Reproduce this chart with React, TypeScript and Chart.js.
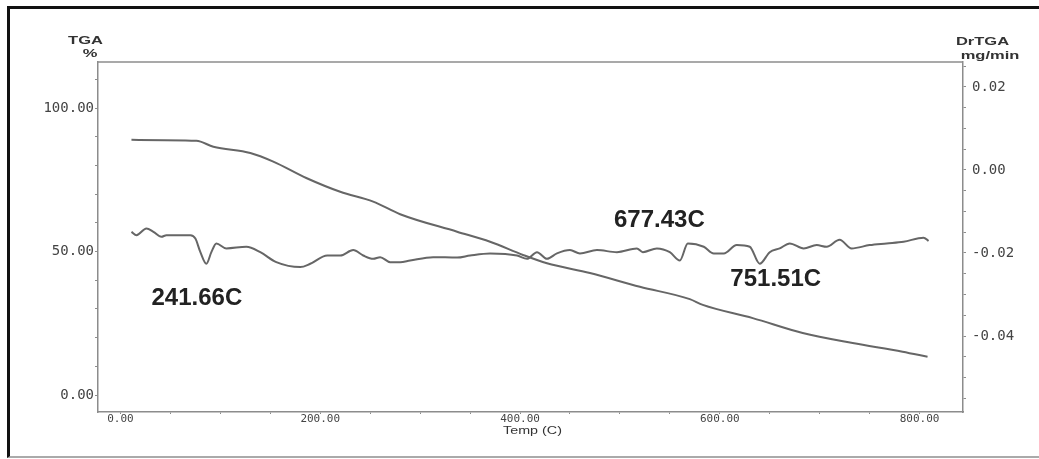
import React, { useEffect, useRef } from "react";
import { Chart, registerables } from "chart.js";

Chart.register(...registerables);

// TGA curve: temperature (C) vs residual mass (%)
const TGA_TEMP = [11, 76, 93, 130, 153, 186, 220, 253, 280, 337, 370, 403, 427, 470, 520, 570, 583, 633, 683, 733, 783, 808];
const TGA_PCT = [88.9, 88.6, 86.5, 84.3, 81.3, 75.6, 70.8, 67.4, 63.0, 56.9, 53.4, 48.8, 45.9, 42.5, 37.7, 33.4, 31.4, 26.8, 21.6, 18.1, 15.1, 13.3];

// Derivative (DrTGA) curve: temperature (C) vs mass-loss rate (mg/min)
const DTG_TEMP = [
  11, 16, 26, 33, 41, 46, 70, 75, 80, 86, 91, 96, 106, 126, 140, 156, 180, 190, 207, 220,
  233, 243, 253, 260, 270, 280, 290, 313, 337, 350, 370, 397, 407, 417, 427, 437, 450, 460, 477, 497,
  517, 523, 537, 550, 560, 568, 584, 594, 604, 617, 630, 640, 650, 660, 670, 684, 697, 707, 720, 732,
  750, 767, 784, 804, 809,
];
const DTG_RATE = [
  -0.0149, -0.0157, -0.0141, -0.0149, -0.0161, -0.0157, -0.0157, -0.0165, -0.0198, -0.0226, -0.0198, -0.0177, -0.0189, -0.0185, -0.0198, -0.0222, -0.0234, -0.0226, -0.0206, -0.0206,
  -0.0193, -0.0206, -0.0214, -0.021, -0.0222, -0.0222, -0.0218, -0.021, -0.0211, -0.0206, -0.0201, -0.0206, -0.0214, -0.0198, -0.0214, -0.0201, -0.0193, -0.0201, -0.0193, -0.0198,
  -0.0189, -0.0198, -0.0189, -0.0198, -0.0218, -0.0177, -0.0185, -0.0201, -0.0201, -0.0181, -0.0185, -0.0226, -0.0198, -0.0189, -0.0177, -0.0189, -0.0181, -0.0185, -0.0168, -0.0189,
  -0.0181, -0.0177, -0.0173, -0.0163, -0.0171,
];

// Labelled tick values on each axis
const X_MAJOR = [0, 200, 400, 600, 800];
const Y_MAJOR = [0, 50, 100];
const Y1_MAJOR = [0.02, 0, -0.02, -0.04];

// Peak annotations, placed in (temperature, TGA %) coordinates
const PEAK_LABELS = ["241.66C", "677.43C", "751.51C"];
const PEAK_LABEL_AT = [
  [76.5, 33.8],
  [539.5, 61],
  [656, 40.2],
];

const AXIS_COLOR = "#8c8c8c";
const LINE_COLOR = "#666666";
const TICK_FONT = "'DejaVu Sans Mono', monospace";

function steps(from: number, to: number, step: number): number[] {
  const out: number[] = [];
  const n = Math.round((to - from) / step);
  for (let i = 0; i <= n; i++) out.push(+(from + i * step).toFixed(6));
  return out;
}

const isOneOf = (v: number, list: number[]) => list.some((m) => Math.abs(m - v) < 1e-9);

const decorations = {
  id: "decorations",
  afterDraw(chart: any) {
    const { ctx, chartArea: a, scales } = chart;
    ctx.save();

    // top edge of the plot frame
    ctx.strokeStyle = AXIS_COLOR;
    ctx.lineWidth = 1.5;
    ctx.beginPath();
    ctx.moveTo(a.left, a.top);
    ctx.lineTo(a.right, a.top);
    ctx.stroke();

    // wide instrument-style captions
    const caption = (text: string, x: number, y: number, font: string, sx: number) => {
      ctx.save();
      ctx.translate(x, y);
      ctx.scale(sx, 1);
      ctx.font = font;
      ctx.fillStyle = "#333";
      ctx.textAlign = "center";
      ctx.textBaseline = "middle";
      ctx.fillText(text, 0, 0);
      ctx.restore();
    };
    const capFont = "bold 11px 'Liberation Sans', Arial, sans-serif";
    caption("TGA", a.left - 12.5, a.top - 21.5, capFont, 1.5);
    caption("%", a.left - 8, a.top - 8, capFont, 1.5);
    caption("DrTGA", a.right + 19.5, a.top - 20.5, capFont, 1.5);
    caption("mg/min", a.right + 27, a.top - 6, capFont, 1.5);
    caption("Temp (C)", (a.left + a.right) / 2 + 2, a.bottom + 19, "10px 'Liberation Sans', Arial, sans-serif", 1.43);

    // peak temperature labels
    ctx.font = "bold 24px 'Liberation Sans', Arial, sans-serif";
    ctx.fillStyle = "#222";
    ctx.textAlign = "center";
    ctx.textBaseline = "middle";
    PEAK_LABELS.forEach((t, i) => {
      const [xv, yv] = PEAK_LABEL_AT[i];
      ctx.fillText(t, scales.x.getPixelForValue(xv), scales.y.getPixelForValue(yv));
    });

    ctx.restore();
  },
};

export default function App() {
  const canvasRef = useRef<HTMLCanvasElement | null>(null);

  useEffect(() => {
    const canvas = canvasRef.current;
    if (!canvas) return;

    const axisBorder = { display: true, color: AXIS_COLOR, width: 1.5 };

    const chart = new Chart(canvas, {
      type: "line",
      data: {
        datasets: [
          {
            label: "TGA",
            data: TGA_TEMP.map((t, i) => ({ x: t, y: TGA_PCT[i] })),
            yAxisID: "y",
            borderColor: LINE_COLOR,
            borderWidth: 2,
            pointRadius: 0,
            cubicInterpolationMode: "monotone",
            fill: false,
          },
          {
            label: "DrTGA",
            data: DTG_TEMP.map((t, i) => ({ x: t, y: DTG_RATE[i] })),
            yAxisID: "y1",
            borderColor: LINE_COLOR,
            borderWidth: 2,
            pointRadius: 0,
            cubicInterpolationMode: "monotone",
            fill: false,
          },
        ],
      },
      options: {
        responsive: false,
        animation: false,
        devicePixelRatio: 1,
        layout: { padding: { top: 62, left: 0, right: 0, bottom: 0 } },
        plugins: { legend: { display: false }, tooltip: { enabled: false } },
        scales: {
          x: {
            type: "linear",
            position: "bottom",
            min: -22.5,
            max: 843.5,
            afterFit: (s: any) => {
              s.height = 47;
            },
            afterBuildTicks: (s: any) => {
              s.ticks = steps(0, 800, 50).map((value) => ({ value }));
            },
            grid: { drawOnChartArea: false, color: AXIS_COLOR, tickLength: 2 },
            border: axisBorder,
            ticks: {
              autoSkip: false,
              maxRotation: 0,
              padding: -1,
              color: "#444",
              font: { family: TICK_FONT, size: 11 },
              callback: (v: any) => (isOneOf(Number(v), X_MAJOR) ? Number(v).toFixed(2) : ""),
            },
          },
          y: {
            type: "linear",
            position: "left",
            min: -5.92,
            max: 116.03,
            afterFit: (s: any) => {
              s.width = 98;
            },
            afterBuildTicks: (s: any) => {
              s.ticks = steps(0, 110, 10).map((value) => ({ value }));
            },
            grid: { drawOnChartArea: false, color: AXIS_COLOR, tickLength: 3 },
            border: axisBorder,
            ticks: {
              autoSkip: false,
              padding: 1,
              color: "#444",
              font: { family: TICK_FONT, size: 14 },
              callback: (v: any) => (isOneOf(Number(v), Y_MAJOR) ? Number(v).toFixed(2) : ""),
            },
          },
          y1: {
            type: "linear",
            position: "right",
            min: -0.05831,
            max: 0.02602,
            afterFit: (s: any) => {
              s.width = 76;
            },
            afterBuildTicks: (s: any) => {
              s.ticks = steps(-0.055, 0.025, 0.005).map((value) => ({ value }));
            },
            grid: { drawOnChartArea: false, color: AXIS_COLOR, tickLength: 3 },
            border: axisBorder,
            ticks: {
              autoSkip: false,
              padding: 6,
              color: "#444",
              font: { family: TICK_FONT, size: 14 },
              callback: (v: any) => (isOneOf(Number(v), Y1_MAJOR) ? Number(v).toFixed(2) : ""),
            },
          },
        },
      },
      plugins: [decorations],
    } as any);

    return () => chart.destroy();
  }, []);

  return (
    <div style={{ position: "absolute", left: 0, top: 0, width: 1039, height: 459, background: "#fff", overflow: "hidden" }}>
      <div
        style={{
          position: "absolute",
          left: 7,
          top: 6,
          width: 1032,
          height: 452,
          boxSizing: "border-box",
          borderLeft: "3px solid #111",
          borderTop: "3px solid #111",
          borderBottom: "2px solid #aaa",
        }}
      />
      <canvas ref={canvasRef} width={1039} height={459} style={{ position: "absolute", left: 0, top: 0, display: "block" }} />
    </div>
  );
}
